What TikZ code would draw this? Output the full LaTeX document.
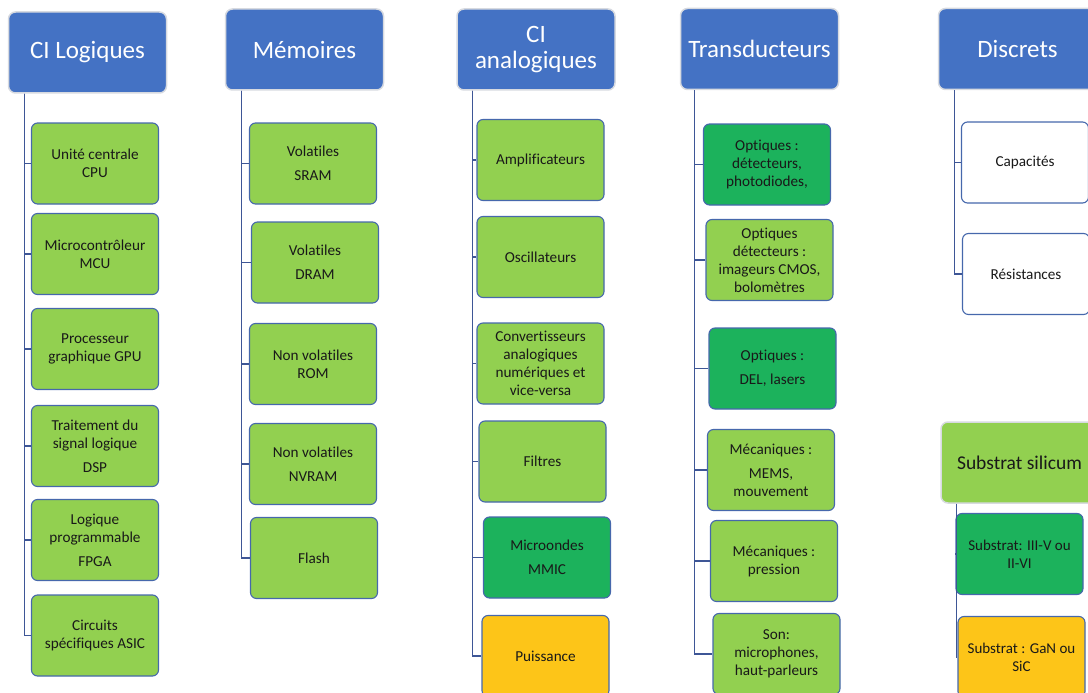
\documentclass[tikz,border=0pt]{standalone}
\usepackage{fontspec}
\setmainfont[Ligatures=NoCommon]{Carlito}
\definecolor{hdrblue}{RGB}{68,114,196}
\definecolor{lgreen}{RGB}{146,208,80}
\definecolor{dgreen}{RGB}{28,178,92}
\definecolor{goldc}{RGB}{253,197,24}
\definecolor{edgec}{RGB}{70,104,172}
\definecolor{linkc}{RGB}{62,86,150}
\definecolor{hdredge}{RGB}{215,218,224}
\begin{document}
\begin{tikzpicture}[x=1pt,y=-1pt,
  hdr/.style={draw=hdredge, line width=1.5pt, fill=hdrblue, rounded corners=7pt,
    minimum width=158pt, minimum height=81pt, align=center, text=white,
    font=\fontsize{25}{26}\selectfont, inner sep=2pt},
  leaf/.style={draw=edgec, line width=1.1pt, fill=lgreen, rounded corners=6pt,
    minimum width=127pt, minimum height=81pt, align=center, text=black!90,
    font=\fontsize{15.2}{18}\selectfont, inner sep=2pt},
  darkleaf/.style={leaf, fill=dgreen},
  goldleaf/.style={leaf, fill=goldc},
  whiteleaf/.style={leaf, fill=white},
  subhdr/.style={hdr, fill=lgreen, text=black!90, font=\fontsize{19.5}{22}\selectfont},
  link/.style={draw=linkc, line width=1.3pt}]
\useasboundingbox (0,0) rectangle (1088,693);
\clip (0,0) rectangle (1088,693);

% ---- CI Logiques ----
\node[hdr] (h1) at (87.5,52.5) {CI Logiques};
\node[leaf] (a1) at (95,163.5) {Unité centrale\\CPU};
\node[leaf] (a2) at (95,254) {Microcontrôleur\\MCU};
\node[leaf] (a3) at (95,349) {Processeur\\graphique GPU};
\node[leaf] (a4) at (95,446) {Traitement du\\signal logique\\[6pt]DSP};
\node[leaf] (a5) at (95,540) {Logique\\programmable\\[6pt]FPGA};
\node[leaf] (a6) at (95,635.5) {Circuits\\spécifiques ASIC};
\foreach \c in {a1,a2,a3,a4,a5,a6}
  \draw[link] ([xshift=16.5pt]h1.south west) |- (\c.west);

% ---- Mémoires ----
\node[hdr] (h2) at (304.5,49.5) {Mémoires};
\node[leaf] (b1) at (313,163.5) {Volatiles\\[6pt]SRAM};
\node[leaf] (b2) at (315,262.5) {Volatiles\\[6pt]DRAM};
\node[leaf] (b3) at (313,364) {Non volatiles\\ROM};
\node[leaf] (b4) at (313,464) {Non volatiles\\[6pt]NVRAM};
\node[leaf] (b5) at (314,558) {Flash};
\foreach \c in {b1,b2,b3,b4,b5}
  \draw[link] ([xshift=17pt]h2.south west) |- (\c.west);

% ---- CI analogiques ----
\node[hdr] (h3) at (536,49.5) {CI\\analogiques};
\node[leaf] (c1) at (540.5,160) {Amplificateurs};
\node[leaf] (c2) at (540.5,257) {Oscillateurs};
\node[leaf] (c3) at (540.5,363.5) {Convertisseurs\\analogiques\\numériques et\\vice-versa};
\node[leaf] (c4) at (542.5,461.5) {Filtres};
\node[darkleaf] (c5) at (547,557.5) {Microondes\\[6pt]MMIC};
\node[goldleaf] (c6) at (545.5,656) {Puissance};
\foreach \c in {c1,c2,c3,c4,c5,c6}
  \draw[link] ([xshift=16pt]h3.south west) |- (\c.west);

% ---- Transducteurs ----
\node[hdr] (h4) at (759.5,49) {Transducteurs};
\node[darkleaf] (d1) at (767,164.5) {Optiques :\\détecteurs,\\photodiodes,};
\node[leaf] (d2) at (769.5,260) {Optiques\\détecteurs :\\imageurs CMOS,\\bolomètres};
\node[darkleaf] (d3) at (772.5,368.5) {Optiques :\\[6pt]DEL, lasers};
\node[leaf] (d4) at (771,470) {Mécaniques :\\[6pt]MEMS,\\mouvement};
\node[leaf] (d5) at (774,561) {Mécaniques :\\pression};
\node[leaf] (d6) at (776.5,654) {Son:\\microphones,\\haut-parleurs};
\foreach \c in {d1,d2,d3,d4,d5,d6}
  \draw[link] ([xshift=15pt]h4.south west) |- (\c.west);

% ---- Discrets ----
\node[hdr] (h5) at (1017.5,49) {Discrets};
\node[whiteleaf] (e1) at (1025,162.5) {Capacités};
\node[whiteleaf] (e2) at (1026,274) {Résistances};
\foreach \c in {e1,e2}
  \draw[link] ([xshift=17pt]h5.south west) |- (\c.west);

% ---- Substrats ----
\node[subhdr, minimum width=157pt] (h6) at (1019.5,462.5) {Substrat silicum};
\node[darkleaf, font=\fontsize{15}{18}\selectfont] (f1) at (1019.5,554) {Substrat: III-V ou\\II-VI};
\node[goldleaf, font=\fontsize{15}{18}\selectfont] (f2) at (1021.5,657) {Substrat : GaN ou\\SiC};
\foreach \c in {f1,f2}
  \draw[link] ([xshift=16pt]h6.south west) |- (\c.west);
\end{tikzpicture}
\end{document}
